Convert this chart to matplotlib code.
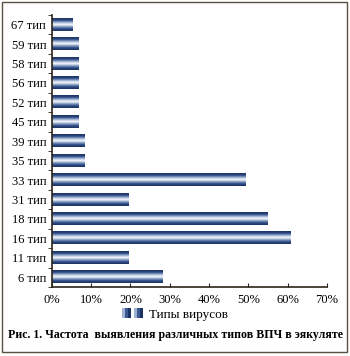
import numpy as np
import matplotlib
matplotlib.use("Agg")
import matplotlib.pyplot as plt
from matplotlib.colors import LinearSegmentedColormap
from matplotlib.patches import Rectangle
from matplotlib.legend_handler import HandlerBase

# HPV types detected in ejaculate, share of samples (%)
types = ["6 тип", "11 тип", "16 тип", "18 тип", "31 тип", "33 тип", "35 тип",
         "39 тип", "45 тип", "52 тип", "56 тип", "58 тип", "59 тип", "67 тип"]
share = [28.0, 19.5, 60.6, 54.8, 19.5, 49.2, 8.3,
         8.3, 6.8, 6.8, 6.8, 6.8, 6.8, 5.3]
xticks = [0, 10, 20, 30, 40, 50, 60, 70]

plt.rcParams["font.family"] = ["Liberation Serif", "DejaVu Serif"]

NAVY = "#1b3364"
# dark edges, white stripe through the middle of each bar
bar_cmap = LinearSegmentedColormap.from_list(
    "stripe", [NAVY, "#2c4a82", "#8aa0c8", "#ffffff", "#9fb2d4", "#2c4a82", NAVY])
grad = np.linspace(0, 1, 64).reshape(-1, 1)


class StripeHandler(HandlerBase):
    def create_artists(self, legend, orig_handle, xd, yd, w, h, fontsize, trans):
        cols = ["#9fb2d4", "#3d5a90", NAVY, "#ffffff", "#9fb2d4", "#3d5a90", NAVY]
        n = len(cols)
        arts = []
        for i, c in enumerate(cols):
            arts.append(Rectangle((xd + i * w / n, yd), w / n, h,
                                  facecolor=c, edgecolor="none", transform=trans))
        return arts


fig = plt.figure(figsize=(3.5, 3.56), dpi=100)
ax = fig.add_axes([0.148, 0.194, 0.786, 0.764])

bh = 0.63
for i, v in enumerate(share):
    ax.imshow(grad, cmap=bar_cmap, aspect="auto", interpolation="bilinear",
              extent=[0, v, i + bh / 2, i - bh / 2], zorder=2)

ax.set_xlim(0, 70)
ax.set_ylim(-0.5, len(types) - 0.5)
ax.set_xticks(xticks)
ax.set_xticklabels([f"{t}%" for t in xticks], fontsize=9)
ax.set_yticks(range(len(types)))
ax.set_yticklabels(types, fontsize=9)
ax.set_yticks(np.arange(-0.5, len(types), 1.0), minor=True)
ax.tick_params(axis="y", which="major", length=0, pad=4)
ax.tick_params(axis="y", which="minor", length=3, direction="out", color="#2b2418")
ax.tick_params(axis="x", length=3, direction="in", color="#2b2418", pad=5)

for s in ("top", "right"):
    ax.spines[s].set_visible(False)
for s in ("left", "bottom"):
    ax.spines[s].set_color("#2b2418")
    ax.spines[s].set_linewidth(1.2)

ax.legend([Rectangle((0, 0), 1, 1)], ["Типы вирусов"], handler_map={Rectangle: StripeHandler()},
          loc="center", bbox_to_anchor=(0.5, 0.115), bbox_transform=fig.transFigure,
          frameon=False, fontsize=9.5, handlelength=1.6, handleheight=0.8, handletextpad=0.5)

fig.text(0.5, 0.058, "Рис. 1. Частота  выявления различных типов ВПЧ в эякуляте",
         ha="center", va="center", fontsize=8.6, fontweight="bold")

fig.patches.append(Rectangle((0.006, 0.011), 0.985, 0.983, transform=fig.transFigure,
                             fill=False, edgecolor="#5a5040", linewidth=1.0))

fig.savefig("out.png", dpi=100)
